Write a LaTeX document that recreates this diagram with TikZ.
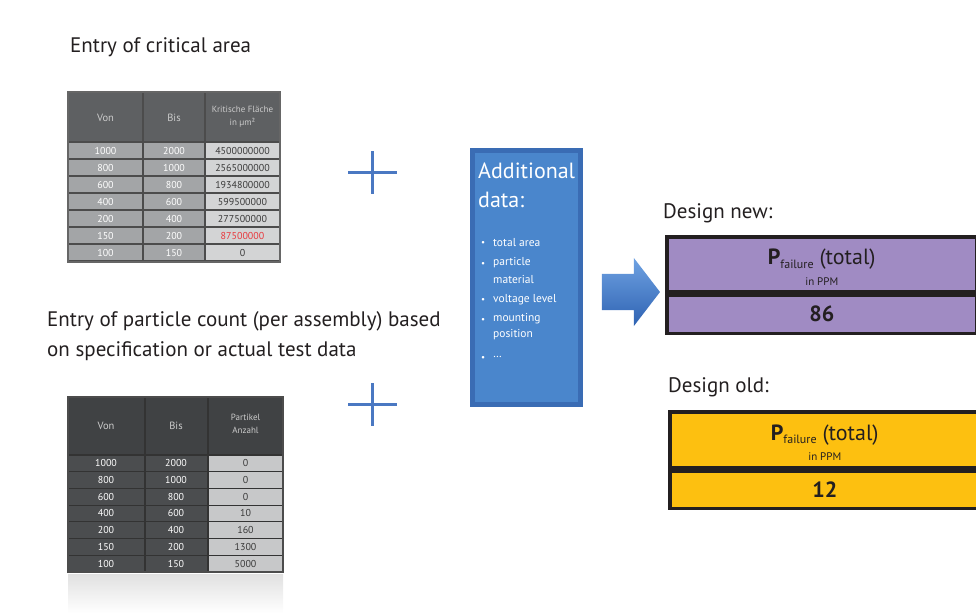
\documentclass[tikz,border=0pt]{standalone}
\usepackage{fontspec}
\setmainfont{PT Sans}
\usepackage{xcolor}
\usepackage{tikz}
\usetikzlibrary{shapes,arrows,positioning,fit,backgrounds}

\definecolor{plusblue}{HTML}{4A78C2}
\definecolor{boxblue}{HTML}{4A86CC}
\definecolor{boxedge}{HTML}{3A6CB4}
\definecolor{arrowlight}{HTML}{6FA2E2}
\definecolor{arrowdark}{HTML}{2E62B2}
\definecolor{newviolet}{HTML}{A08BC3}
\definecolor{oldyellow}{HTML}{FDC010}
\definecolor{frameblack}{HTML}{231F20}
\definecolor{headgrayA}{HTML}{5E6062}
\definecolor{cellgrayA}{HTML}{A3A5A7}
\definecolor{valgrayA}{HTML}{D3D4D5}
\definecolor{headgrayB}{HTML}{404244}
\definecolor{cellgrayB}{HTML}{4B4D4F}
\definecolor{valgrayB}{HTML}{C7C8C9}
\definecolor{valtext}{HTML}{3A3A3A}
\definecolor{warnred}{HTML}{E8383D}

\begin{document}
\begin{tikzpicture}[x=1pt,y=-1pt,
        captext/.style={anchor=base west, inner sep=0pt, text=frameblack, font=\fontsize{21}{30}\selectfont},
        tabtext/.style={inner sep=0pt, font=\fontsize{10}{11}\selectfont},
        tabhead/.style={inner sep=0pt, align=center, font=\fontsize{9}{13}\selectfont},
        gridline/.style={line width=1.2pt},
        plussign/.style={plusblue, line width=3pt},
        resultbox/.style={draw=frameblack, line width=3.5pt, minimum width=310pt, inner sep=0pt, text=frameblack},
        bullettext/.style={anchor=west, inner sep=0pt, text=white, font=\fontsize{11.5}{12}\selectfont}]
    \useasboundingbox (0,0) rectangle (976,613);

    % critical area table
    \node[captext] (areacap) at (70,52) {Entry of critical area};
    \fill[headgrayA] (68,92) rectangle (280,142);
    \fill[cellgrayA] (68,142) rectangle (205,262);
    \fill[valgrayA] (205,142) rectangle (280,262);
    \node[tabhead, text=black!20, font=\fontsize{10.5}{12}\selectfont] (areavonh) at (105.5,118) {Von};
    \node[tabhead, text=black!20, font=\fontsize{10.5}{12}\selectfont] (areabish) at (174,118) {Bis};
    \node[tabhead, text=black!20] (areakfh) at (242.5,117) {Kritische Fläche\\in µm²};
    \foreach \v/\b/\k/\c [count=\i] in {1000/2000/4500000000/valtext, 800/1000/2565000000/valtext,
            600/800/1934800000/valtext, 400/600/599500000/valtext, 200/400/277500000/valtext,
            150/200/87500000/warnred, 100/150/0/valtext} {
        \node[tabtext, text=white] (areavon\i) at (105.5,{142+(\i-0.5)*17}) {\v};
        \node[tabtext, text=white] (areabis\i) at (174,{142+(\i-0.5)*17}) {\b};
        \node[tabtext, text=\c] (areakf\i) at (242.5,{142+(\i-0.5)*17}) {\k};
        \draw[gridline, black!70] (68,{142+\i*17}) -- (280,{142+\i*17});
    }
    \draw[gridline, black!70] (68,142) -- (280,142);
    \foreach \x in {143,205} {
        \draw[gridline, black!70] (\x,92) -- (\x,262);
    }
    \draw[gridline, black!60] (68,92) rectangle (280,262);

    % particle count table
    \node[captext, anchor=north west, align=left] (countcap) at (47,311) {Entry of particle count (per assembly) based\\on specification or actual test data};
    \fill[headgrayB] (68,397) rectangle (283,455);
    \fill[cellgrayB] (68,455) rectangle (208,572);
    \fill[valgrayB] (208,455) rectangle (283,572);
    \shade[top color=black!12, bottom color=white] (68,574) rectangle (283,613);
    \node[tabhead, text=black!20, font=\fontsize{10.5}{12}\selectfont] (countvonh) at (106,426) {Von};
    \node[tabhead, text=black!20, font=\fontsize{10.5}{12}\selectfont] (countbish) at (176,426) {Bis};
    \node[tabhead, text=black!20] (countnh) at (245.5,424) {Partikel\\Anzahl};
    \foreach \v/\b/\n [count=\i] in {1000/2000/0, 800/1000/0, 600/800/0, 400/600/10,
            200/400/160, 150/200/1300, 100/150/5000} {
        \node[tabtext, text=white] (countvon\i) at (106,{455+(\i-0.5)*16.7}) {\v};
        \node[tabtext, text=white] (countbis\i) at (176,{455+(\i-0.5)*16.7}) {\b};
        \node[tabtext, text=valtext] (countn\i) at (245.5,{455+(\i-0.5)*16.7}) {\n};
        \draw[gridline, black!80] (68,{455+\i*16.7}) -- (283,{455+\i*16.7});
    }
    \draw[gridline, black!80] (68,455) -- (283,455);
    \foreach \x in {145,208} {
        \draw[gridline, black!80] (\x,397) -- (\x,572);
    }
    \draw[gridline, black!70] (68,397) rectangle (283,572);

    % plus signs
    \foreach \y in {172,404} {
        \draw[plussign] (348,\y) -- (397,\y);
        \draw[plussign] (372,\y-21) -- (372,\y+22);
    }

    % additional data
    \node[fill=boxblue, draw=boxedge, line width=5pt, minimum width=108pt, minimum height=254pt, inner sep=0pt] (extra) at (526.5,277.5) {};
    \node[anchor=north west, inner sep=0pt, align=left, text=white, font=\fontsize{22}{29}\selectfont] (extratitle) at (478,163) {Additional\\data:};
    \foreach \y in {243,264,300,320,358} {
        \node[bullettext, font=\fontsize{9}{10}\selectfont] at (481,\y) {\textbullet};
    }
    \foreach \t/\y in {total area/243, particle/263, material/279, voltage level/300,
            mounting/319, position/335, \dots/357} {
        \node[bullettext] at (493,\y) {\t};
    }

    % flow arrow
    \node[single arrow, single arrow tip angle=105, single arrow head extend=16pt,
        minimum height=58pt, inner xsep=0pt, inner ysep=18pt,
        top color=arrowlight, bottom color=arrowdark, draw=none] (flow) at (624,292) {};

    % results
    \node[captext] (newcap) at (663,218) {Design new:};
    \node[resultbox, fill=newviolet, minimum height=55pt, anchor=north west] (newhead) at (665,235) {};
    \node[resultbox, fill=newviolet, minimum height=38pt, anchor=north west] (newval) at (newhead.south west) {\fontsize{22}{22}\selectfont\bfseries 86};
    \node[inner sep=0pt, text=frameblack] (newp) at ([yshift=5pt]newhead.center)
        {\fontsize{22}{22}\selectfont\textbf{P}\raisebox{-3.5pt}{\fontsize{12}{12}\selectfont failure} (total)};
    \node[inner sep=0pt, text=frameblack, font=\fontsize{11}{11}\selectfont] (newppm) at ([yshift=-17pt]newhead.center) {in PPM};

    \node[captext] (oldcap) at (668,392) {Design old:};
    \node[resultbox, fill=oldyellow, minimum height=56pt, anchor=north west] (oldhead) at (668,410) {};
    \node[resultbox, fill=oldyellow, minimum height=37pt, anchor=north west] (oldval) at (oldhead.south west) {\fontsize{22}{22}\selectfont\bfseries 12};
    \node[inner sep=0pt, text=frameblack] (oldp) at ([yshift=5pt]oldhead.center)
        {\fontsize{22}{22}\selectfont\textbf{P}\raisebox{-3.5pt}{\fontsize{12}{12}\selectfont failure} (total)};
    \node[inner sep=0pt, text=frameblack, font=\fontsize{11}{11}\selectfont] (oldppm) at ([yshift=-17pt]oldhead.center) {in PPM};
\end{tikzpicture}
\end{document}
